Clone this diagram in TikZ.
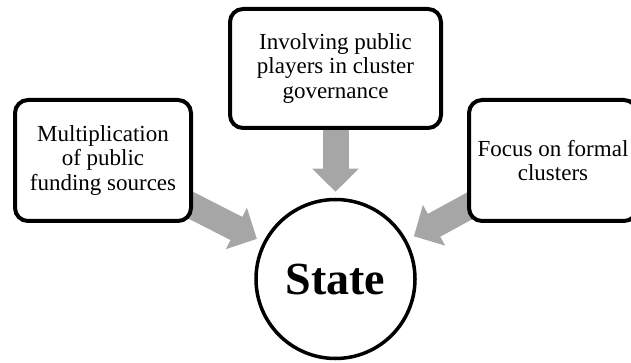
\documentclass[tikz,border=0pt]{standalone}
\usepackage{fontspec}
\setmainfont{Liberation Serif}
\usetikzlibrary{arrows.meta,backgrounds}
\definecolor{arrowgray}{HTML}{A6A6A6}
\begin{document}
\begin{tikzpicture}[x=1pt,y=-1pt,
  box/.style={draw, fill=white, line width=4pt, rounded corners=13pt, align=center,
    font=\fontsize{23}{24.5}\selectfont, inner sep=0pt},
  statecircle/.style={draw, fill=white, circle, line width=3.5pt, inner sep=0pt,
    minimum size=159pt, font=\fontsize{46}{50}\selectfont\bfseries},
  garrow/.style={draw=arrowgray, line width=26pt, shorten <=-12pt,
    -{Triangle[width=45pt,length=23pt]}}]
\useasboundingbox (0,0) rectangle (631,363);
\clip (0,0) rectangle (631,363);
\node[box, minimum width=176pt, minimum height=121pt] (left) at (103,160.5)
  {Multiplication\\of public\\funding sources};
\node[box, minimum width=211pt, minimum height=119pt] (top) at (335.5,68.5)
  {Involving public\\players in cluster\\governance};
\node[box, minimum width=168pt, minimum height=121pt] (right) at (553,160.5)
  {Focus on formal\\clusters};
\node[statecircle] (state) at (335.5,279) {State};
\begin{pgfonlayer}{background}
\draw[garrow, shorten >=6pt] (top) -- (state);
\draw[garrow, shorten >=7pt] (left) -- (state);
\draw[garrow, shorten >=8pt] (right) -- (state);
\end{pgfonlayer}
\end{tikzpicture}
\end{document}
